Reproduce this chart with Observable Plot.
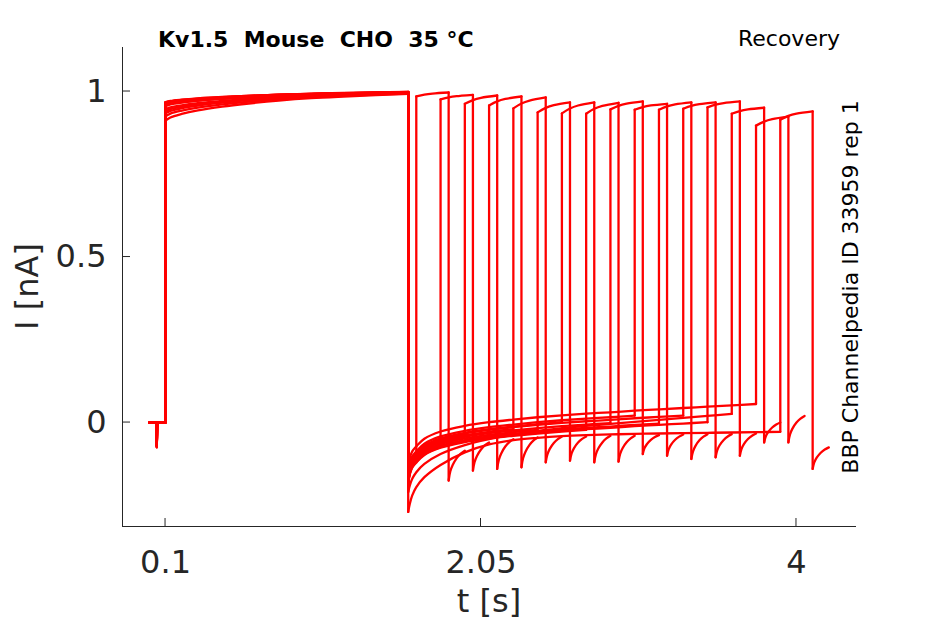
<!DOCTYPE html>
<html><head><meta charset="utf-8">
<script src="https://cdn.jsdelivr.net/npm/d3@7"></script>
<script src="https://cdn.jsdelivr.net/npm/@observablehq/plot@0.6"></script>
<style>body{margin:0;background:#fff} svg{display:block}</style>
</head><body><div id="chart"></div>
<script>
// ---- axes ----
const xDomain = [-0.166, 4.371];
const yDomain = [-0.314, 1.133];
const xTicks = [0.1, 2.05, 4];
const xTickLabels = ["0.1", "2.05", "4"];
const yTicks = [0, 0.5, 1];
const yTickLabels = ["0", "0.5", "1"];

// ---- protocol timing (s) ----
const spikeTime = 0.044;
const pulse1On = 0.1;
const pulse1Off = 1.6;
const pulse2Dur = 0.2;
const sweepIds = [0, 1, 2, 3, 4, 5, 6, 7, 8, 9, 10, 11, 12, 13, 14, 15];
const pulse2Start = [1.65, 1.80, 1.95, 2.10, 2.25, 2.40, 2.55, 2.70, 2.85, 3.00, 3.15, 3.30, 3.45, 3.60, 3.75, 3.90];

// ---- baseline capacitive spike (nA) ----
const spikeDepth = [-0.075, -0.07, -0.072, -0.065, -0.068, -0.07, -0.074, -0.066, -0.071, -0.069, -0.073, -0.067, -0.07, -0.072, -0.068, -0.075];

// ---- pulse 1 (read shape, fraction of rise) ----
const p1Times = [0.1, 0.13, 0.2, 0.3, 0.45, 0.6, 0.8, 1.0, 1.2, 1.4, 1.6];
const p1Shape = [0, 0.12, 0.25, 0.38, 0.52, 0.63, 0.75, 0.84, 0.9, 0.95, 1.0];
const p1Initial = [0.968, 0.966, 0.964, 0.962, 0.960, 0.958, 0.956, 0.963, 0.967, 0.946, 0.959, 0.934, 0.961, 0.925, 0.912, 0.940];
const p1Final = [0.998, 0.997, 0.999, 0.996, 0.998, 0.997, 0.999, 0.996, 0.998, 0.995, 0.997, 0.996, 0.998, 0.994, 0.993, 0.995];

// ---- tail currents after pulse 1 (nA vs time since 1.6 s) ----
const tailDt = [0, 0.01, 0.025, 0.05, 0.1, 0.2, 0.35, 0.5, 0.65, 0.8, 0.95, 1.1, 1.25, 1.4, 1.55, 1.7, 1.85, 2.0, 2.15, 2.3];
const tailMain = [-0.17, -0.14, -0.12, -0.105, -0.082, -0.06, -0.043, -0.032, -0.024, -0.017, -0.011, -0.006, -0.002, 0.003, 0.007, 0.011, 0.015, 0.019, 0.023, 0.027];
const tailMid = [-0.21, -0.19, -0.17, -0.15, -0.125, -0.095, -0.068, -0.05, -0.036, -0.025, -0.017, -0.01, -0.004, 0.002, 0.008, 0.014, 0.02, 0.026, 0.032, 0.038];
const tailDeep = [-0.27, -0.245, -0.22, -0.195, -0.165, -0.128, -0.09, -0.066, -0.053, -0.046, -0.041, -0.038, -0.036, -0.034, -0.033, -0.032, -0.031, -0.030, -0.029, -0.028];
const tailShape = ["main", "main", "main", "main", "main", "main", "main", "main", "main", "main", "main", "main", "main", "mid", "main", "deep"];
const tailOffset = [0.0, -0.01, 0.008, -0.012, 0.004, -0.005, 0.012, -0.016, 0.0, 0.018, -0.01, 0.01, -0.014, 0.0, 0.033, 0.0];

// ---- pulse 2 ----
const p2Dt = [0, 0.05, 0.1, 0.2];
const p2Shape = [0, 0.45, 0.72, 1];
const p2Initial = [0.985, 0.976, 0.963, 0.958, 0.949, 0.937, 0.934, 0.933, 0.946, 0.945, 0.945, 0.948, 0.952, 0.933, 0.897, 0.915];
const p2Final = [0.997, 0.990, 0.988, 0.985, 0.982, 0.967, 0.967, 0.966, 0.970, 0.963, 0.967, 0.967, 0.970, 0.951, 0.924, 0.940];

// ---- tail after pulse 2 ----
const hookDt = [0, 0.01, 0.025, 0.05, 0.075, 0.1];
const hookShape = [0, 0.3, 0.52, 0.75, 0.9, 1];
const hookMin = [-0.175, -0.145, -0.14, -0.135, -0.12, -0.115, -0.12, -0.118, -0.095, -0.1, -0.11, -0.105, -0.1, -0.06, -0.06, -0.14];
const hookEnd = [-0.085, -0.06, -0.05, -0.045, -0.042, -0.042, -0.04, -0.04, -0.038, -0.036, -0.035, -0.035, -0.033, 0.0, 0.02, -0.075];

const tails = {main: tailMain, mid: tailMid, deep: tailDeep};

// ---- build rows ----
const smoothRows = [], linearRows = [];
sweepIds.forEach((k) => {
  const lin = (seg, pts) => pts.forEach(([t, I]) => linearRows.push({t, I, seg: `${k}-${seg}`}));
  const smo = (seg, pts) => pts.forEach(([t, I]) => smoothRows.push({t, I, seg: `${k}-${seg}`}));
  lin("base", [[0, 0], [spikeTime, 0], [spikeTime + 0.002, spikeDepth[k]], [spikeTime + 0.004, 0], [pulse1On, 0], [pulse1On, p1Initial[k]]]);
  smo("p1", p1Times.map((t, j) => [t, p1Initial[k] + (p1Final[k] - p1Initial[k]) * p1Shape[j]]));
  const shape = tails[tailShape[k]];
  const dtEnd = pulse2Start[k] - pulse1Off;
  const tailPts = [];
  tailDt.forEach((dt, j) => { if (dt <= dtEnd + 1e-6) tailPts.push([pulse1Off + dt, shape[j] + tailOffset[k]]); });
  lin("off1", [[pulse1Off, p1Final[k]], tailPts[0]]);
  smo("tail", tailPts);
  const tailLast = tailPts[tailPts.length - 1];
  const s = pulse2Start[k];
  lin("on2", [tailLast, [s, p2Initial[k]]]);
  smo("p2", p2Dt.map((dt, j) => [s + dt, p2Initial[k] + (p2Final[k] - p2Initial[k]) * p2Shape[j]]));
  lin("off2", [[s + pulse2Dur, p2Final[k]], [s + pulse2Dur, hookMin[k]]]);
  smo("hook", hookDt.map((dt, j) => [s + pulse2Dur + dt, hookMin[k] + (hookEnd[k] - hookMin[k]) * hookShape[j]]));
});

const axisColor = "#262626";
const lineW = 2.3;
const plot = Plot.plot({
  width: 945, height: 624,
  marginLeft: 122, marginRight: 89, marginTop: 47, marginBottom: 98,
  style: {fontFamily: "DejaVu Sans", color: axisColor, background: "white", overflow: "visible"},
  x: {domain: xDomain},
  y: {domain: yDomain},
  marks: [
    Plot.line(smoothRows, {x: "t", y: "I", z: "seg", stroke: "#ff0000", strokeWidth: lineW, curve: "catmull-rom"}),
    Plot.line(linearRows, {x: "t", y: "I", z: "seg", stroke: "#ff0000", strokeWidth: lineW, strokeLinecap: "round"}),
    Plot.ruleY([yDomain[0]], {stroke: axisColor, strokeWidth: 1}),
    Plot.ruleX([xDomain[0]], {stroke: axisColor, strokeWidth: 1}),
    Plot.axisX(xTicks, {tickFormat: d => xTickLabels[xTicks.indexOf(d)], tickSize: 0, tickPadding: 24, fontSize: 32, label: null}),
    Plot.axisY(yTicks, {tickFormat: d => yTickLabels[yTicks.indexOf(d)], tickSize: 0, tickPadding: 16, fontSize: 32, label: null})
  ]
});
document.getElementById("chart").appendChild(plot);

const sx = plot.scale("x"), sy = plot.scale("y");
const svg = d3.select(plot);
const x0 = sx.apply(xDomain[0]), y0 = sy.apply(yDomain[0]);
const tg = svg.append("g").attr("stroke", axisColor).attr("stroke-width", 1);
xTicks.forEach(v => tg.append("line").attr("x1", sx.apply(v)).attr("x2", sx.apply(v)).attr("y1", y0).attr("y2", y0 - 8));
yTicks.forEach(v => tg.append("line").attr("y1", sy.apply(v)).attr("y2", sy.apply(v)).attr("x1", x0).attr("x2", x0 + 8));

const txt = svg.append("g").attr("font-family", "DejaVu Sans");
txt.append("text").attr("x", (sx.apply(xDomain[0]) + sx.apply(xDomain[1])) / 2).attr("y", 612)
  .attr("text-anchor", "middle").attr("font-size", 32).attr("fill", axisColor).text("t [s]");
txt.append("text").attr("transform", `translate(38,${(sy.apply(yDomain[0]) + sy.apply(yDomain[1])) / 2}) rotate(-90)`)
  .attr("text-anchor", "middle").attr("font-size", 32).attr("fill", axisColor).text("I [nA]");
txt.append("text").attr("x", 158).attr("y", 47).attr("text-anchor", "start").attr("font-size", 22).attr("font-weight", "bold")
  .attr("fill", "#000").style("white-space", "pre").text("Kv1.5  Mouse  CHO  35 °C");
txt.append("text").attr("x", 840).attr("y", 46).attr("text-anchor", "end").attr("font-size", 22)
  .attr("fill", "#000").text("Recovery");
txt.append("text").attr("transform", `translate(858,287) rotate(-90)`).attr("text-anchor", "middle")
  .attr("font-size", 22).attr("fill", "#000").text("BBP Channelpedia ID 33959 rep 1");
</script>
</body></html>
